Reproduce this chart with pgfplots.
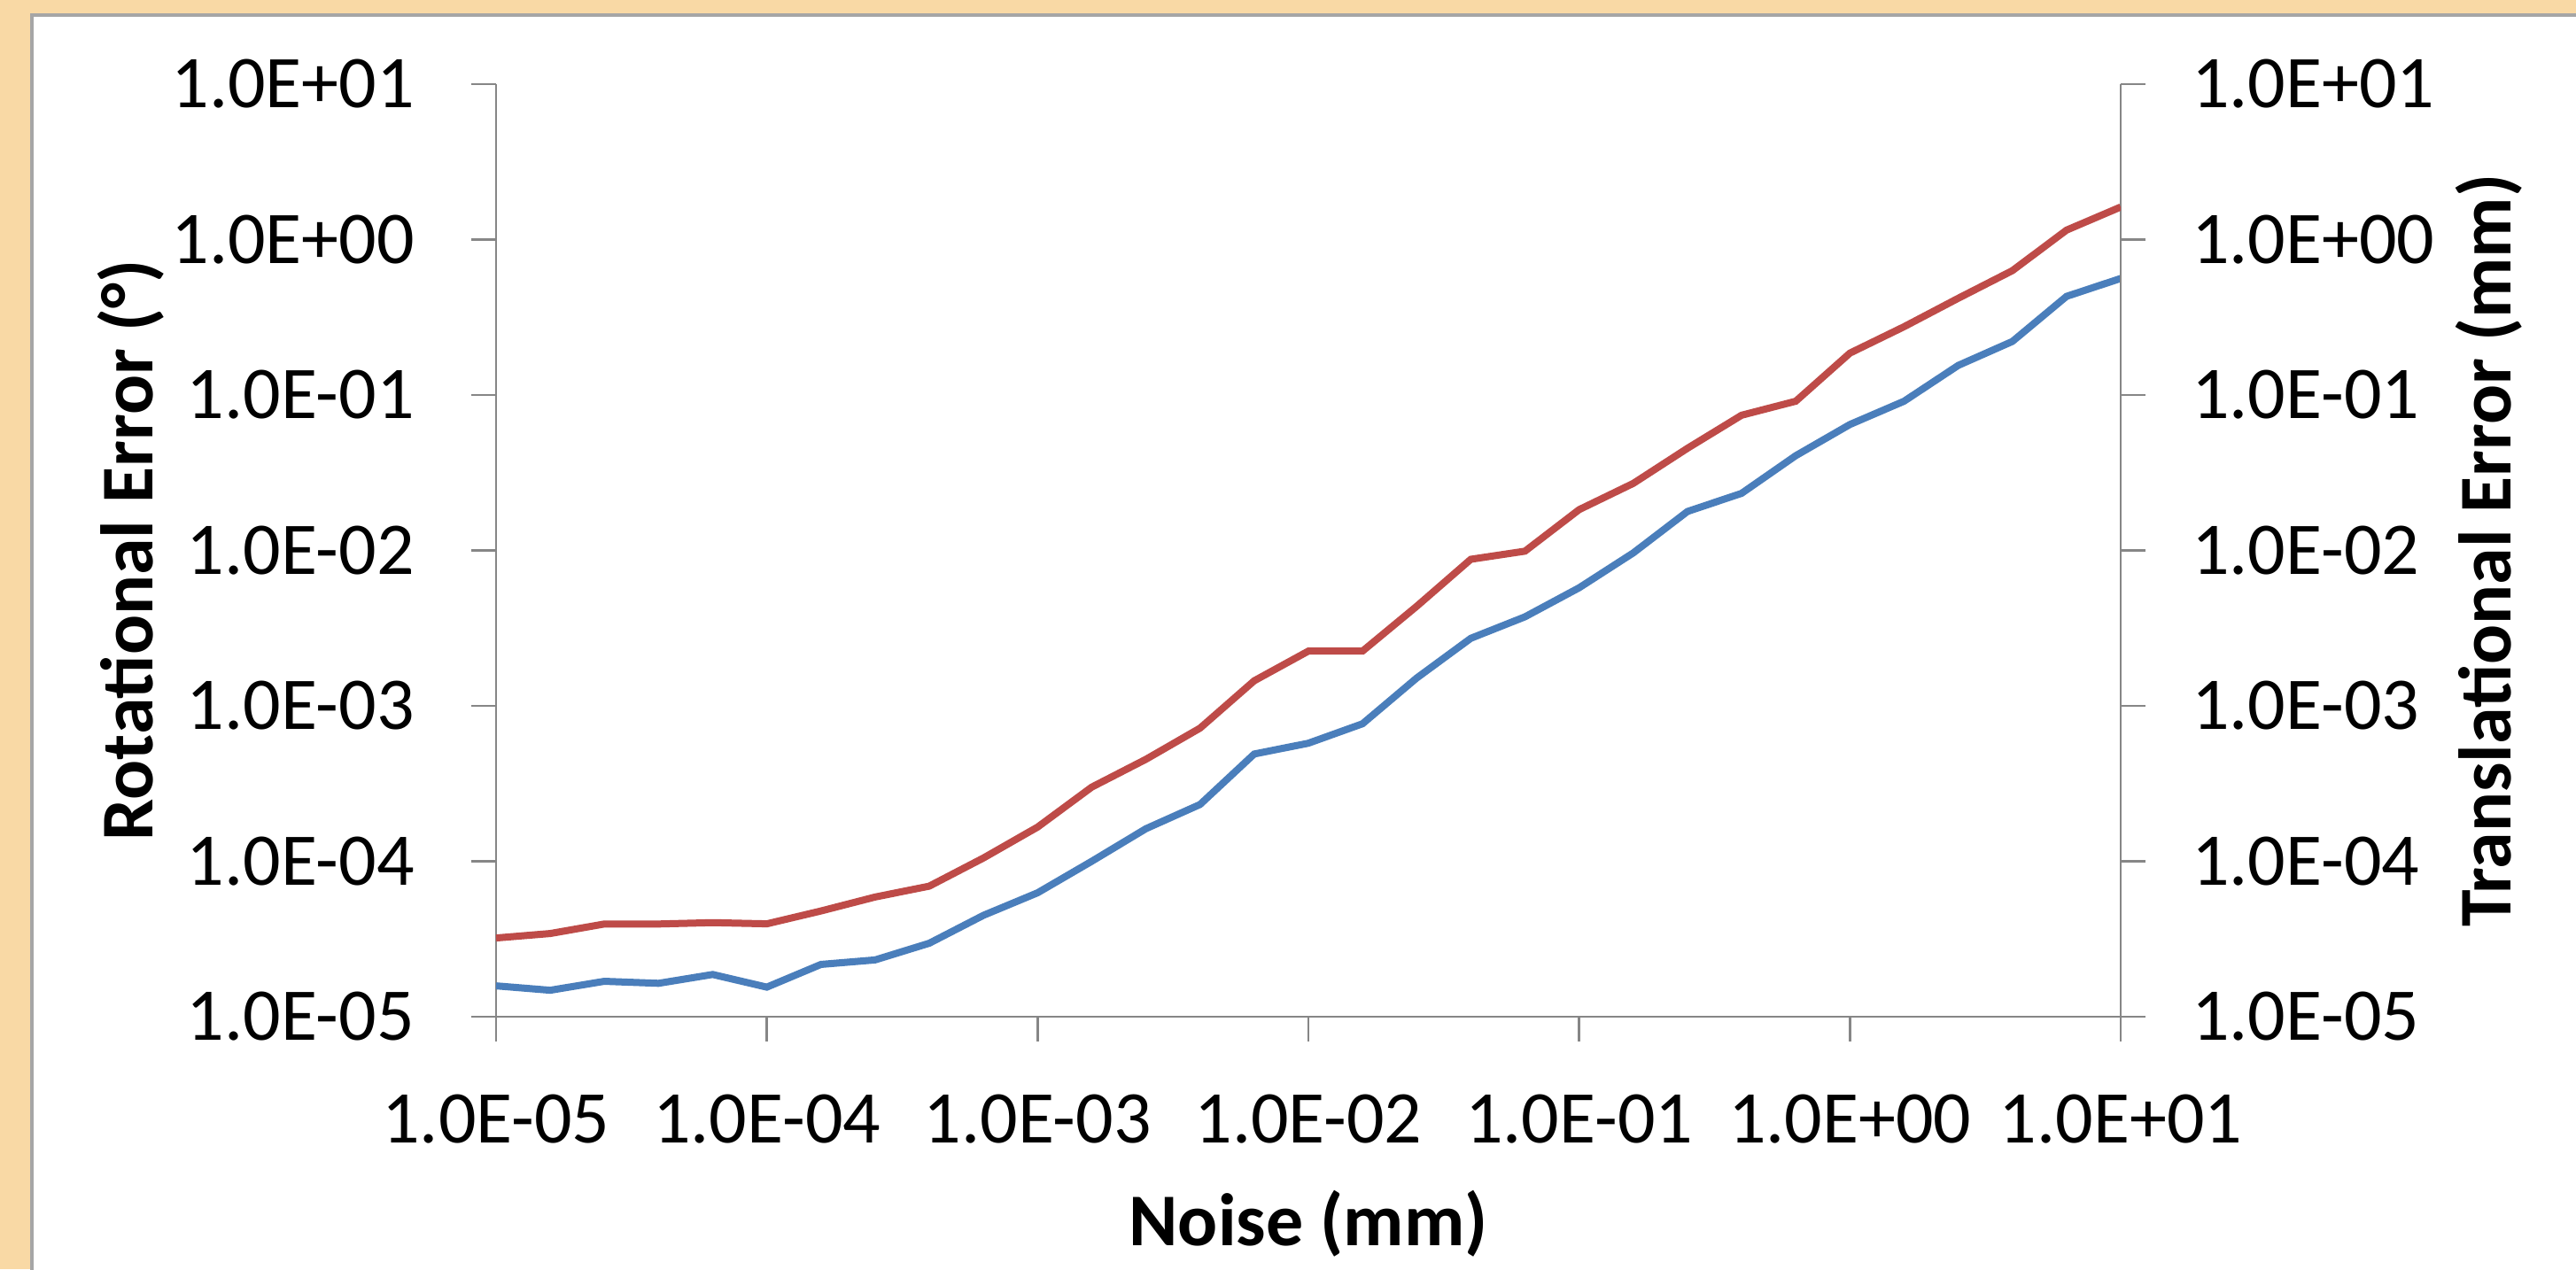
\documentclass[border=0pt]{standalone}
\usepackage{fontspec}
\setmainfont{Carlito}
\usepackage{pgfplots}
\usepackage{pgfplotstable}
\pgfplotsset{compat=1.18}

\definecolor{peach}{RGB}{249,217,165}
\definecolor{axisgray}{RGB}{134,134,134}
\definecolor{xlred}{RGB}{190,75,72}
\definecolor{xlblue}{RGB}{74,126,187}

% noise (mm), rotational error (deg, blue), translational error (mm, red)
\pgfplotstableread{
noise     rot      trans
1e-5      1.58e-5  3.21e-5
1.585e-5  1.48e-5  3.43e-5
2.512e-5  1.69e-5  3.95e-5
3.981e-5  1.64e-5  3.95e-5
6.310e-5  1.87e-5  4.03e-5
1e-4      1.55e-5  3.96e-5
1.585e-4  2.17e-5  4.79e-5
2.512e-4  2.32e-5  5.89e-5
3.981e-4  2.97e-5  6.92e-5
6.310e-4  4.49e-5  1.05e-4
1e-3      6.27e-5  1.66e-4
1.585e-3  1.00e-4  3.00e-4
2.512e-3  1.62e-4  4.53e-4
3.981e-3  2.32e-4  7.19e-4
6.310e-3  4.90e-4  1.45e-3
1e-2      5.75e-4  2.25e-3
1.585e-2  7.67e-4  2.25e-3
2.512e-2  1.51e-3  4.37e-3
3.981e-2  2.72e-3  8.77e-3
6.310e-2  3.74e-3  9.89e-3
1e-1      5.75e-3  1.83e-2
0.1585    9.64e-3  2.70e-2
0.2512    1.78e-2  4.54e-2
0.3981    2.33e-2  7.41e-2
0.6310    4.07e-2  9.12e-2
1         6.46e-2  0.186
1.585     9.12e-2  0.275
2.512     0.155    0.419
3.981     0.221    0.631
6.310     0.431    1.15
10        0.562    1.62
}\errdata

\begin{document}
\begin{tikzpicture}
\path[use as bounding box] (-140pt,-71.25pt) rectangle (587pt,287pt);
\fill[peach] (-140pt,-71.25pt) rectangle (587pt,287pt);
\fill[white] (-131pt,-80pt) rectangle (600pt,282.75pt);
\draw[gray!70, line width=0.8pt] (-131pt,-80pt) -- (-131pt,282.75pt) -- (600pt,282.75pt);

\begin{axis}[
  at={(0pt,0pt)}, anchor=south west,
  scale only axis, width=458.5pt, height=263.25pt,
  xmode=log, ymode=log, xmin=1e-5, xmax=1e1, ymin=1e-5, ymax=1e1,
  xtick={1e-5,1e-4,1e-3,1e-2,1e-1,1e0,1e1},
  ytick={1e-5,1e-4,1e-3,1e-2,1e-1,1e0,1e1},
  xticklabels={1.0E-05,1.0E-04,1.0E-03,1.0E-02,1.0E-01,1.0E+00,1.0E+01},
  yticklabels={1.0E-05,1.0E-04,1.0E-03,1.0E-02,1.0E-01,1.0E+00,1.0E+01},
  xminorticks=false, yminorticks=false,
  tick align=outside, major tick length=7pt,
  axis line style={draw=axisgray, line width=0.6pt},
  every tick/.style={draw=axisgray, line width=0.6pt},
  tick label style={font=\fontsize{21}{25}\selectfont},
  xticklabel style={yshift=-11.5pt},
  yticklabel style={xshift=-12.5pt},
  label style={font=\fontsize{21}{25}\selectfont\bfseries},
  axis x line*=bottom, axis y line*=left,
  xlabel={Noise (mm)}, ylabel={Rotational Error (°)},
  xlabel style={at={(axis description cs:0.5,-0.2222)}, anchor=center},
  ylabel style={at={(axis description cs:-0.2247,0.5)}, anchor=center}]
\addplot[xlblue, line width=2pt] table[x=noise, y=rot] {\errdata};
\end{axis}

\begin{axis}[
  at={(0pt,0pt)}, anchor=south west,
  scale only axis, width=458.5pt, height=263.25pt,
  xmode=log, ymode=log, xmin=1e-5, xmax=1e1, ymin=1e-5, ymax=1e1,
  xtick={1e-5,1e-4,1e-3,1e-2,1e-1,1e0,1e1},
  ytick={1e-5,1e-4,1e-3,1e-2,1e-1,1e0,1e1},
  yticklabels={1.0E-05,1.0E-04,1.0E-03,1.0E-02,1.0E-01,1.0E+00,1.0E+01},
  xminorticks=false, yminorticks=false,
  tick align=outside, major tick length=7pt,
  axis line style={draw=axisgray, line width=0.6pt},
  every tick/.style={draw=axisgray, line width=0.6pt},
  tick label style={font=\fontsize{21}{25}\selectfont},
  yticklabel style={xshift=9.5pt},
  label style={font=\fontsize{21}{25}\selectfont\bfseries},
  axis x line=none, axis y line*=right,
  ylabel={Translational Error (mm)},
  ylabel style={at={(axis description cs:1.2268,0.5)}, anchor=center}]
\addplot[xlred, line width=2pt] table[x=noise, y=trans] {\errdata};
\end{axis}
\end{tikzpicture}
\end{document}
